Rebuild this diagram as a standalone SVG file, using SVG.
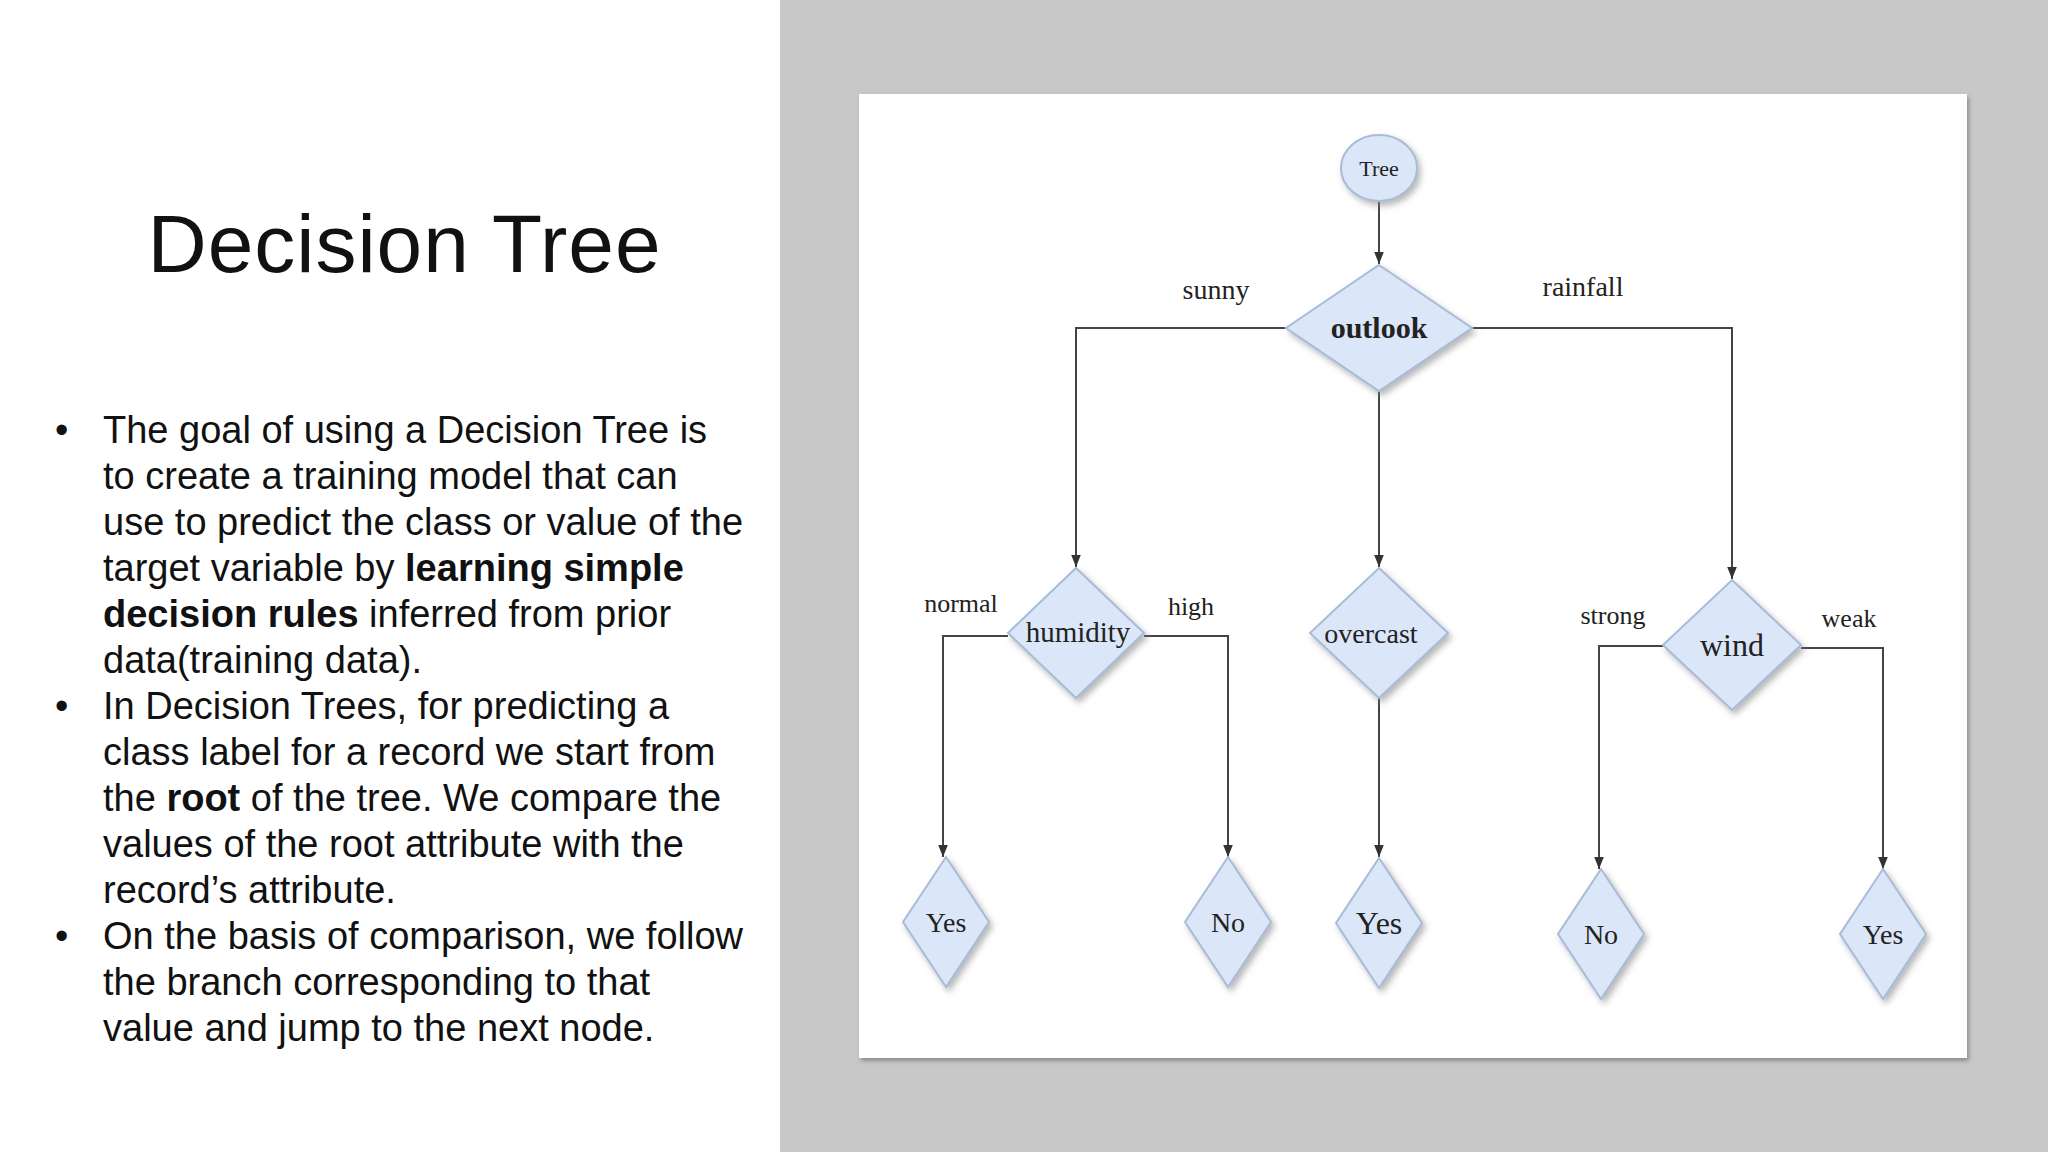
<svg xmlns="http://www.w3.org/2000/svg" width="2048" height="1152" viewBox="0 0 2048 1152">
<style>
.t{font-family:"Liberation Sans",Arial,sans-serif;font-size:38px;fill:#111}
.b{font-weight:bold}
.n{fill:#dbe6f8;stroke:#a8bcd9;stroke-width:2;filter:url(#sh)}
.l{font-family:"Liberation Serif","Times New Roman",serif;fill:#222;text-anchor:middle}
.c{fill:none;stroke:#444;stroke-width:2}
</style>
<defs>
<filter id="sh" x="-30%" y="-30%" width="160%" height="160%"><feDropShadow dx="3" dy="4" stdDeviation="3" flood-color="#888" flood-opacity="0.6"/></filter>
<filter id="cs" x="-5%" y="-5%" width="110%" height="110%"><feDropShadow dx="2" dy="3" stdDeviation="2" flood-color="#666" flood-opacity="0.6"/></filter>
<marker id="a" viewBox="0 0 10 10" refX="10" refY="5" markerWidth="6" markerHeight="6" orient="auto"><path d="M0,1 L10,5 L0,9 z" fill="#333"/></marker>
</defs>
<rect width="2048" height="1152" fill="#fff"/>
<rect x="780" y="0" width="1268" height="1152" fill="#c8c8c8"/>
<rect x="859" y="94" width="1108" height="964" fill="#fff" filter="url(#cs)"/>
<text x="404" y="272" font-family="Liberation Sans,Arial,sans-serif" font-size="82" text-anchor="middle" textLength="513" fill="#111">Decision Tree</text>
<g class="t">
<text x="55" y="443">•</text><text x="55" y="719">•</text><text x="55" y="949">•</text>
<text x="103" y="443">The goal of using a Decision Tree is</text>
<text x="103" y="489">to create a training model that can</text>
<text x="103" y="535">use to predict the class or value of the</text>
<text x="103" y="581">target variable by <tspan class="b">learning simple</tspan></text>
<text x="103" y="627"><tspan class="b">decision rules</tspan> inferred from prior</text>
<text x="103" y="673">data(training data).</text>
<text x="103" y="719">In Decision Trees, for predicting a</text>
<text x="103" y="765">class label for a record we start from</text>
<text x="103" y="811">the <tspan class="b">root</tspan> of the tree. We compare the</text>
<text x="103" y="857">values of the root attribute with the</text>
<text x="103" y="903">record’s attribute.</text>
<text x="103" y="949">On the basis of comparison, we follow</text>
<text x="103" y="995">the branch corresponding to that</text>
<text x="103" y="1041">value and jump to the next node.</text>
</g>
<g id="connectors" class="c">
<path d="M1379,201 V264" marker-end="url(#a)"/>
<path d="M1286,328 H1076 V567" marker-end="url(#a)"/>
<path d="M1472,328 H1732 V579" marker-end="url(#a)"/>
<path d="M1379,391 V567" marker-end="url(#a)"/>
<path d="M1008,636 H943 V857" marker-end="url(#a)"/>
<path d="M1144,636 H1228 V857" marker-end="url(#a)"/>
<path d="M1379,698 V857" marker-end="url(#a)"/>
<path d="M1663,646 H1599 V869" marker-end="url(#a)"/>
<path d="M1801,648 H1883 V869" marker-end="url(#a)"/>
</g>
<g class="l" font-size="28">
<text x="1216" y="299">sunny</text>
<text x="1583" y="296">rainfall</text>
<text x="961" y="612" font-size="26">normal</text>
<text x="1191" y="615" font-size="26">high</text>
<text x="1613" y="624" font-size="26">strong</text>
<text x="1849" y="627" font-size="26">weak</text>
</g>
<g id="tree"><ellipse class="n" cx="1379" cy="168" rx="38" ry="33"/><text class="l" x="1379" y="176" font-size="22">Tree</text></g>
<g id="outlook"><path class="n" d="M1379,265 L1472,328 L1379,391 L1286,328 z"/><text class="l" x="1379" y="338" font-size="30" font-weight="bold">outlook</text></g>
<g id="humidity"><path class="n" d="M1076,568 L1144,633 L1076,698 L1008,633 z"/><text class="l" x="1078" y="642" font-size="29">humidity</text></g>
<g id="overcast"><path class="n" d="M1379,568 L1448,633 L1379,698 L1310,633 z"/><text class="l" x="1371" y="643" font-size="28">overcast</text></g>
<g id="wind"><path class="n" d="M1732,580 L1801,645 L1732,710 L1663,645 z"/><text class="l" x="1732" y="656" font-size="32">wind</text></g>
<g id="yes1"><path class="n" d="M946,857 L989,922 L946,987 L903,922 z"/><text class="l" x="946" y="932" font-size="28">Yes</text></g>
<g id="no1"><path class="n" d="M1228,857 L1271,922 L1228,987 L1185,922 z"/><text class="l" x="1228" y="932" font-size="28">No</text></g>
<g id="yes2"><path class="n" d="M1379,858 L1422,923 L1379,988 L1336,923 z"/><text class="l" x="1379" y="934" font-size="32">Yes</text></g>
<g id="no2"><path class="n" d="M1601,869 L1644,934 L1601,999 L1558,934 z"/><text class="l" x="1601" y="944" font-size="28">No</text></g>
<g id="yes3"><path class="n" d="M1883,869 L1926,934 L1883,999 L1840,934 z"/><text class="l" x="1883" y="944" font-size="28">Yes</text></g>
</svg>
